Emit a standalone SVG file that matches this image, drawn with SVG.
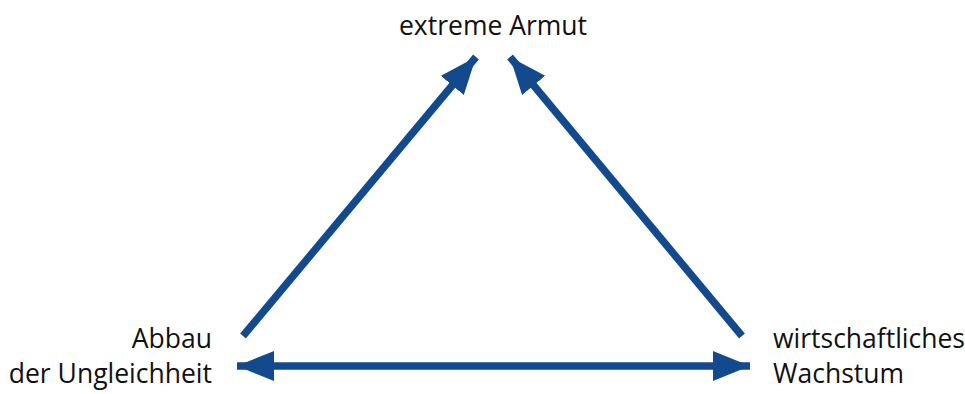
<svg xmlns="http://www.w3.org/2000/svg" width="965" height="394" viewBox="0 0 965 394">
<style>
.t{font-family:"Open Sans","Noto Sans",sans-serif;font-size:26.5px;fill:#111}
.c{stroke:#134a8e;stroke-width:7.5;fill:none}
</style>
<defs>
<marker id="ah" markerUnits="userSpaceOnUse" markerWidth="40" markerHeight="32" refX="37" refY="15" orient="auto">
<path d="M0,0 L37,15 L0,30 Z" fill="#134a8e"/>
</marker>
<marker id="ahs" markerUnits="userSpaceOnUse" markerWidth="40" markerHeight="32" refX="0" refY="15" orient="auto">
<path d="M37,0 L0,15 L37,30 Z" fill="#134a8e"/>
</marker>
</defs>
<g id="connectors">
<line class="c" x1="243" y1="336" x2="476" y2="57" marker-end="url(#ah)"/>
<line class="c" x1="742" y1="336" x2="510" y2="57" marker-end="url(#ah)"/>
<line class="c" x1="237" y1="366" x2="750" y2="366" marker-start="url(#ahs)" marker-end="url(#ah)"/>
</g>
<g id="armut"><text class="t" x="493" y="35" text-anchor="middle">extreme Armut</text></g>
<g id="abbau"><text class="t" text-anchor="end"><tspan x="212" y="348">Abbau</tspan><tspan x="212" y="383">der Ungleichheit</tspan></text></g>
<g id="wachstum"><text class="t"><tspan x="773" y="348">wirtschaftliches</tspan><tspan x="773" y="383">Wachstum</tspan></text></g>
</svg>
